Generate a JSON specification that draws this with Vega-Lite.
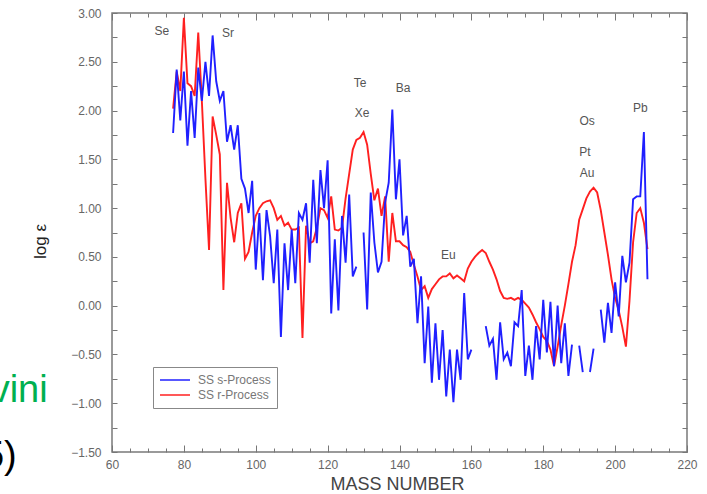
{
  "$schema": "https://vega.github.io/schema/vega-lite/v6.json",
  "width": 575,
  "height": 439,
  "autosize": {"type": "none"},
  "padding": {"left": 112, "top": 13, "right": 20, "bottom": 42},
  "background": "white",
  "config": {"view": {"stroke": "#7a7a7a", "strokeWidth": 1.5}, "font": "Liberation Sans"},
  "datasets": {
    "ab": [
      {"A":77,"s":1.77,"r":2.02},{"A":78,"s":2.42,"r":2.40},{"A":79,"s":1.90,"r":2.20},{"A":80,"s":2.40,"r":2.95},
      {"A":81,"s":1.64,"r":2.28},{"A":82,"s":2.20,"r":2.25},{"A":83,"s":1.72,"r":2.15},{"A":84,"s":2.44,"r":2.80},
      {"A":85,"s":2.10,"r":2.10},{"A":86,"s":2.50,"r":1.30},{"A":87,"s":2.15,"r":0.57},{"A":88,"s":2.77,"r":1.94},
      {"A":89,"s":2.30,"r":1.75},{"A":90,"s":2.10,"r":1.55},{"A":91,"s":2.20,"r":0.16},{"A":92,"s":1.68,"r":1.26},
      {"A":93,"s":1.85,"r":0.90},{"A":94,"s":1.60,"r":0.65},{"A":95,"s":1.85,"r":0.95},{"A":96,"s":1.30,"r":1.05},
      {"A":97,"s":1.20,"r":0.48},{"A":98,"s":0.95,"r":0.55},{"A":99,"s":1.28,"r":0.75},{"A":100,"s":0.37,"r":0.92},
      {"A":101,"s":0.95,"r":1.00},{"A":102,"s":0.26,"r":1.05},{"A":103,"s":0.98,"r":1.07},{"A":104,"s":0.71,"r":1.08},
      {"A":105,"s":0.23,"r":1.00},{"A":106,"s":0.78,"r":0.88},{"A":107,"s":-0.32,"r":0.92},{"A":108,"s":0.64,"r":0.82},
      {"A":109,"s":0.16,"r":0.85},{"A":110,"s":0.78,"r":0.78},{"A":111,"s":0.23,"r":0.78},{"A":112,"s":0.95,"r":0.80},
      {"A":113,"s":0.88,"r":-0.33},{"A":114,"s":1.05,"r":0.82},{"A":115,"s":0.44,"r":0.64},{"A":116,"s":1.29,"r":0.66},
      {"A":117,"s":0.64,"r":0.80},{"A":118,"s":1.39,"r":1.00},{"A":119,"s":1.00,"r":0.98},{"A":120,"s":1.49,"r":0.90},
      {"A":121,"s":-0.08,"r":1.12},{"A":122,"s":0.68,"r":0.78},{"A":123,"s":-0.05,"r":0.77},{"A":124,"s":0.92,"r":0.80},
      {"A":125,"s":0.44,"r":1.10},{"A":126,"s":1.14,"r":1.35},{"A":127,"s":0.30,"r":1.60},{"A":128,"s":0.40,"r":1.70},
      {"A":129,"s":null,"r":1.72},{"A":130,"s":0.75,"r":1.78},{"A":131,"s":-0.04,"r":1.65},{"A":132,"s":1.16,"r":1.35},
      {"A":133,"s":0.65,"r":1.08},{"A":134,"s":0.34,"r":1.20},{"A":135,"s":0.45,"r":0.92},{"A":136,"s":1.06,"r":1.12},
      {"A":137,"s":1.26,"r":0.45},{"A":138,"s":2.01,"r":0.95},{"A":139,"s":1.09,"r":0.66},{"A":140,"s":1.50,"r":0.66},
      {"A":141,"s":0.72,"r":0.62},{"A":142,"s":0.92,"r":0.60},{"A":143,"s":0.40,"r":0.55},{"A":144,"s":0.48,"r":0.42},
      {"A":145,"s":-0.18,"r":0.30},{"A":146,"s":0.30,"r":0.16},{"A":147,"s":-0.59,"r":0.20},{"A":148,"s":-0.01,"r":0.08},
      {"A":149,"s":-0.79,"r":0.17},{"A":150,"s":-0.18,"r":0.22},{"A":151,"s":-0.76,"r":0.27},{"A":152,"s":-0.25,"r":0.30},
      {"A":153,"s":-0.93,"r":0.30},{"A":154,"s":-0.45,"r":0.33},{"A":155,"s":-0.99,"r":0.28},{"A":156,"s":-0.45,"r":0.31},
      {"A":157,"s":-0.76,"r":0.28},{"A":158,"s":0.13,"r":0.25},{"A":159,"s":-0.55,"r":0.38},{"A":160,"s":-0.45,"r":0.45},
      {"A":161,"s":null,"r":0.50},{"A":162,"s":null,"r":0.54},{"A":163,"s":null,"r":0.57},{"A":164,"s":-0.21,"r":0.54},
      {"A":165,"s":-0.41,"r":0.45},{"A":166,"s":-0.34,"r":0.37},{"A":167,"s":-0.76,"r":0.27},{"A":168,"s":-0.17,"r":0.15},
      {"A":169,"s":-0.55,"r":0.08},{"A":170,"s":-0.48,"r":0.07},{"A":171,"s":-0.62,"r":0.08},{"A":172,"s":-0.17,"r":0.06},
      {"A":173,"s":-0.21,"r":0.08},{"A":174,"s":0.16,"r":0.06},{"A":175,"s":-0.72,"r":0.02},{"A":176,"s":-0.41,"r":-0.02},
      {"A":177,"s":-0.76,"r":-0.09},{"A":178,"s":-0.21,"r":-0.17},{"A":179,"s":-0.55,"r":-0.24},{"A":180,"s":0.06,"r":-0.32},
      {"A":181,"s":-0.48,"r":-0.36},{"A":182,"s":0.04,"r":-0.45},{"A":183,"s":-0.62,"r":-0.62},{"A":184,"s":0.00,"r":-0.42},
      {"A":185,"s":-0.59,"r":-0.20},{"A":186,"s":-0.18,"r":0.00},{"A":187,"s":-0.72,"r":0.22},{"A":188,"s":-0.40,"r":0.45},
      {"A":189,"s":null,"r":0.62},{"A":190,"s":-0.41,"r":0.88},{"A":191,"s":-0.68,"r":0.99},{"A":192,"s":null,"r":1.10},
      {"A":193,"s":-0.68,"r":1.17},{"A":194,"s":-0.44,"r":1.21},{"A":195,"s":null,"r":1.16},{"A":196,"s":-0.04,"r":0.98},
      {"A":197,"s":-0.38,"r":0.75},{"A":198,"s":0.03,"r":0.52},{"A":199,"s":-0.28,"r":0.27},{"A":200,"s":0.24,"r":0.08},
      {"A":201,"s":-0.11,"r":-0.05},{"A":202,"s":0.51,"r":-0.22},{"A":203,"s":0.24,"r":-0.42},{"A":204,"s":0.44,"r":0.05},
      {"A":205,"s":1.09,"r":0.65},{"A":206,"s":1.12,"r":0.95},{"A":207,"s":1.12,"r":1.00},{"A":208,"s":1.78,"r":0.85},
      {"A":209,"s":0.27,"r":0.58}
    ],
    "lab": [
      {"A":73.9,"v":2.82,"t":"Se"},{"A":92.3,"v":2.80,"t":"Sr"},{"A":129.0,"v":2.28,"t":"Te"},
      {"A":129.6,"v":1.98,"t":"Xe"},{"A":141.0,"v":2.23,"t":"Ba"},{"A":153.6,"v":0.52,"t":"Eu"},
      {"A":192.2,"v":1.89,"t":"Os"},{"A":191.6,"v":1.58,"t":"Pt"},{"A":192.2,"v":1.36,"t":"Au"},
      {"A":207.0,"v":2.03,"t":"Pb"}
    ],
    "frag": [
      {"A":42.1,"v":-0.99,"t":"vini","c":"green"},
      {"A":33.5,"v":-1.66,"t":"05)","c":"black"}
    ]
  },
  "layer": [
    {
      "data": {"name": "ab"},
      "transform": [{"fold": ["r"], "as": ["process", "v"]}],
      "mark": {"type": "line", "strokeWidth": 1.9},
      "encoding": {
        "x": {"field": "A", "type": "quantitative",
          "scale": {"domain": [60, 220], "nice": false, "zero": false},
          "axis": {"orient": "bottom",
            "values": [60,65,70,75,80,85,90,95,100,105,110,115,120,125,130,135,140,145,150,155,160,165,170,175,180,185,190,195,200,205,210,215,220],
            "format": "d", "labelExpr": "datum.value % 20 == 0 ? datum.label : ''",
            "tickSize": {"condition": {"test": "datum.value % 20 == 0", "value": -7}, "value": -4},
            "tickColor": "#777", "domain": false, "grid": false,
            "labelFont": "Liberation Sans", "labelFontSize": 12, "labelColor": "#666", "labelPadding": 14,
            "labelFlush": false, "labelOverlap": false,
            "title": "MASS NUMBER", "titleFont": "Liberation Sans", "titleFontSize": 18, "titleFontWeight": "normal",
            "titleColor": "#444", "titleX": 285, "titleY": 32, "titleBaseline": "middle", "titleAlign": "center"}},
        "y": {"field": "v", "type": "quantitative",
          "scale": {"domain": [-1.5, 3], "nice": false, "zero": false},
          "axis": {"orient": "left",
            "values": [-1.5,-1.25,-1,-0.75,-0.5,-0.25,0,0.25,0.5,0.75,1,1.25,1.5,1.75,2,2.25,2.5,2.75,3],
            "format": ".2f", "labelExpr": "(datum.value * 2) % 1 == 0 ? datum.label : ''",
            "tickSize": -5, "tickColor": "#777", "domain": false, "grid": false,
            "labelFont": "Liberation Sans", "labelFontSize": 12, "labelColor": "#666", "labelPadding": 16,
            "labelFlush": false, "labelOverlap": false,
            "title": "log ε", "titleFont": "Liberation Sans", "titleFontSize": 17, "titleFontWeight": "normal",
            "titleColor": "#222", "titleX": -72, "titleY": 228, "titleAngle": -90, "titleBaseline": "middle", "titleAlign": "center"}},
        "color": {"field": "process", "type": "nominal",
          "scale": {"domain": ["s", "r"], "range": ["#2020ff", "#ff2020"]},
          "legend": {"title": null, "orient": "none", "legendX": 41, "legendY": 354, "direction": "vertical",
            "symbolType": "stroke", "symbolSize": 900, "symbolStrokeWidth": 1.6, "clipHeight": 14, "rowPadding": 1,
            "padding": 6, "strokeColor": "#888", "fillColor": "white",
            "labelFont": "Liberation Sans", "labelFontSize": 12, "labelColor": "#777", "labelOffset": 7,
            "labelExpr": "datum.value == 's' ? 'SS s-Process' : 'SS r-Process'"}}
      }
    },
    {
      "data": {"name": "ab"},
      "transform": [{"fold": ["s"], "as": ["process", "v"]}],
      "mark": {"type": "line", "strokeWidth": 1.9},
      "encoding": {
        "x": {"field": "A", "type": "quantitative", "scale": {"domain": [60, 220], "nice": false, "zero": false}, "axis": null},
        "y": {"field": "v", "type": "quantitative", "scale": {"domain": [-1.5, 3], "nice": false, "zero": false}, "axis": null},
        "color": {"field": "process", "type": "nominal", "scale": {"domain": ["s", "r"], "range": ["#2020ff", "#ff2020"]}, "legend": null}
      }
    },
    {
      "data": {"name": "lab"},
      "mark": {"type": "text", "font": "Liberation Sans", "fontSize": 12, "color": "#555", "align": "center", "baseline": "middle"},
      "encoding": {
        "x": {"field": "A", "type": "quantitative", "scale": {"domain": [60, 220], "nice": false, "zero": false},
          "axis": {"orient": "top",
            "values": [60,65,70,75,80,85,90,95,100,105,110,115,120,125,130,135,140,145,150,155,160,165,170,175,180,185,190,195,200,205,210,215,220],
            "labels": false, "domain": false, "grid": false, "title": null,
            "tickSize": {"condition": {"test": "datum.value % 20 == 0", "value": -7}, "value": -4}, "tickColor": "#777"}},
        "y": {"field": "v", "type": "quantitative", "scale": {"domain": [-1.5, 3], "nice": false, "zero": false},
          "axis": {"orient": "right",
            "values": [-1.5,-1.25,-1,-0.75,-0.5,-0.25,0,0.25,0.5,0.75,1,1.25,1.5,1.75,2,2.25,2.5,2.75,3],
            "labels": false, "domain": false, "grid": false, "title": null, "tickSize": -5, "tickColor": "#777"}},
        "text": {"field": "t"}
      }
    },
    {
      "data": {"name": "frag"},
      "mark": {"type": "text", "font": "'Liberation Sans Narrow', 'Liberation Sans', sans-serif", "fontSize": 38, "align": "right", "baseline": "alphabetic"},
      "encoding": {
        "x": {"field": "A", "type": "quantitative", "scale": {"domain": [60, 220], "nice": false, "zero": false}, "axis": null},
        "y": {"field": "v", "type": "quantitative", "scale": {"domain": [-1.5, 3], "nice": false, "zero": false}, "axis": null},
        "text": {"field": "t"},
        "color": {"field": "c", "type": "nominal", "scale": {"domain": ["green", "black"], "range": ["#00b050", "#000000"]}, "legend": null}
      }
    }
  ],
  "resolve": {"axis": {"x": "independent", "y": "independent"}, "scale": {"color": "independent"}, "legend": {"color": "independent"}}
}
